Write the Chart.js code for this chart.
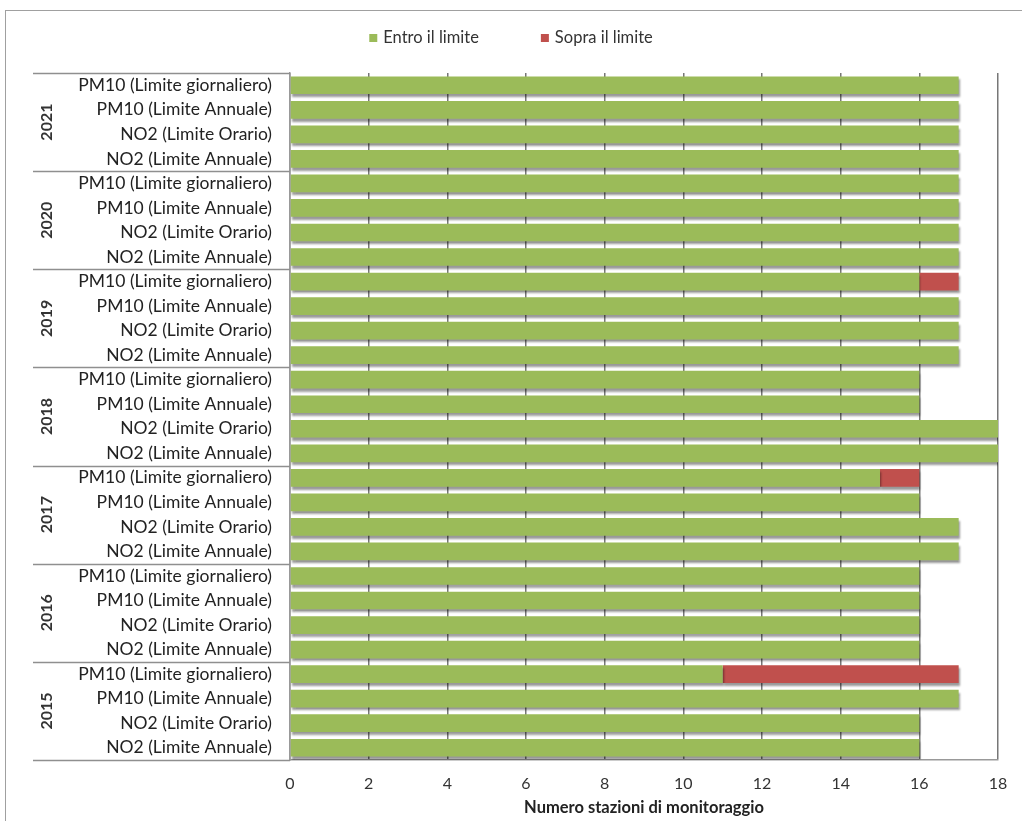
<!DOCTYPE html>
<html>
<head>
<meta charset="utf-8">
<script src="https://cdn.jsdelivr.net/npm/chart.js@4.4.1/dist/chart.umd.min.js"></script>
<style>
  html, body { margin: 0; padding: 0; background: #fff; }
  #wrap { position: relative; width: 1022px; height: 821px; overflow: hidden; }
  #frame { position: absolute; left: 5px; top: 10px; width: 1100px; height: 900px;
           border-left: 1.5px solid #a0a0a0; border-top: 1.5px solid #a0a0a0; }
  #chart { position: absolute; left: 0; top: 0; }
</style>
</head>
<body>
<div id="wrap">
  <div id="frame"></div>
  <canvas id="chart" width="1022" height="821"></canvas>
</div>
<script>
// DATA (top row first)
const years = ["2021", "2020", "2019", "2018", "2017", "2016", "2015"];
const indicators = [
  "PM10 (Limite giornaliero)",
  "PM10 (Limite Annuale)",
  "NO2 (Limite Orario)",
  "NO2 (Limite Annuale)"
];
const entroIlLimite = [
  17, 17, 17, 17,
  17, 17, 17, 17,
  16, 17, 17, 17,
  16, 16, 18, 18,
  15, 16, 17, 17,
  16, 16, 16, 16,
  11, 17, 16, 16
];
const sopraIlLimite = [
  0, 0, 0, 0,
  0, 0, 0, 0,
  1, 0, 0, 0,
  0, 0, 0, 0,
  1, 0, 0, 0,
  0, 0, 0, 0,
  6, 0, 0, 0
];
const xTicks = [0, 2, 4, 6, 8, 10, 12, 14, 16, 18];

const FONT = "Lato, 'Open Sans', sans-serif";
const GREEN = "#9BBB59";
const RED = "#C0504D";

const labels = years.flatMap(() => indicators);

// ================================
// Bar shadows (borderWidth 0 so the bar is not clipped)
// ================================
const shadowPlugin = {
  id: "shadow",
  beforeDatasetDraw(chart) {
    const ctx = chart.ctx;
    ctx.save();
    ctx.shadowColor = "rgba(0,0,0,0.4)";
    ctx.shadowBlur = 2;
    ctx.shadowOffsetX = 1;
    ctx.shadowOffsetY = 3;
  },
  afterDatasetDraw(chart) {
    chart.ctx.restore();
  }
};

// ================================
// Year groups + legend
// ================================
const groupPlugin = {
  id: "groups",
  afterDraw(chart) {
    const ctx = chart.ctx;
    const y = chart.scales.y;
    const area = chart.chartArea;
    const n = indicators.length;
    const boundary = i => {
      if (i <= 0) return area.top;
      if (i >= labels.length) return area.bottom;
      return (y.getPixelForValue(i - 1) + y.getPixelForValue(i)) / 2;
    };

    ctx.save();
    ctx.strokeStyle = "#8f8f8f";
    ctx.lineWidth = 1.5;
    for (let g = 0; g <= years.length; g++) {
      const yy = Math.round(boundary(g * n)) + 0.5;
      ctx.beginPath();
      ctx.moveTo(33, yy);
      ctx.lineTo(area.left, yy);
      ctx.stroke();
    }

    ctx.fillStyle = "#333";
    ctx.font = "bold 16px " + FONT;
    ctx.textAlign = "center";
    ctx.textBaseline = "middle";
    years.forEach((yr, g) => {
      const cy = (boundary(g * n) + boundary((g + 1) * n)) / 2;
      ctx.save();
      ctx.translate(47, cy);
      ctx.rotate(-Math.PI / 2);
      ctx.fillText(yr, 0, 0);
      ctx.restore();
    });

    // legend
    ctx.font = "16.5px " + FONT;
    ctx.textAlign = "left";
    const items = chart.data.datasets.map(ds => ({ text: ds.label, color: ds.backgroundColor }));
    const box = 8, gapBox = 6, gapItem = 62;
    const widths = items.map(it => box + gapBox + ctx.measureText(it.text).width);
    const total = widths.reduce((a, b) => a + b, 0) + gapItem * (items.length - 1);
    let x = chart.width / 2 - total / 2;
    const ly = 38;
    items.forEach((it, i) => {
      ctx.fillStyle = it.color;
      ctx.fillRect(x, ly - box / 2, box, box);
      ctx.fillStyle = "#333";
      ctx.fillText(it.text, x + box + gapBox, ly);
      x += widths[i] + gapItem;
    });
    ctx.restore();
  }
};

new Chart(document.getElementById("chart"), {
  type: "bar",
  data: {
    labels,
    datasets: [
      { label: "Entro il limite", data: entroIlLimite, backgroundColor: GREEN, borderWidth: 0 },
      { label: "Sopra il limite", data: sopraIlLimite, backgroundColor: RED, borderWidth: 0 }
    ]
  },
  options: {
    indexAxis: "y",
    responsive: false,
    animation: false,
    devicePixelRatio: 1,
    layout: { padding: { top: 73, right: 24, left: 0, bottom: 0 } },
    datasets: { bar: { categoryPercentage: 1, barPercentage: 0.72 } },
    plugins: {
      legend: { display: false },
      tooltip: { enabled: false }
    },
    scales: {
      x: {
        stacked: true,
        min: 0,
        max: 18,
        afterBuildTicks: s => { s.ticks = xTicks.map(v => ({ value: v })); },
        afterFit: s => { s.height = 61; },
        grid: { color: "#777", lineWidth: 1.5, drawTicks: false },
        border: { display: true, color: "#999", width: 1.5 },
        ticks: { padding: 14, color: "#333", font: { family: FONT, size: 16 } },
        title: {
          display: true,
          text: "Numero stazioni di monitoraggio",
          color: "#222",
          padding: { top: 0, bottom: 3 },
          font: { family: FONT, size: 16.5, weight: "bold" }
        }
      },
      y: {
        stacked: true,
        afterFit: s => { s.width = 290; },
        grid: { display: false, drawTicks: false },
        border: { display: true, color: "#999", width: 1.5 },
        ticks: { padding: 18, color: "#222", font: { family: FONT, size: 17.5 }, autoSkip: false }
      }
    }
  },
  plugins: [shadowPlugin, groupPlugin]
});
</script>
</body>
</html>
